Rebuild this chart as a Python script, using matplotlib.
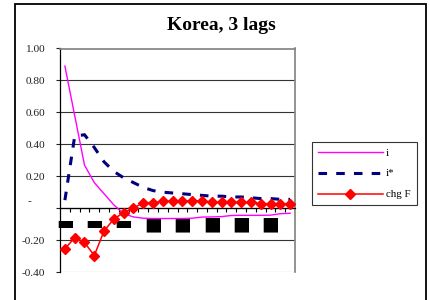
import matplotlib
matplotlib.use('Agg')
import matplotlib.pyplot as plt
from matplotlib.patches import Rectangle

# ---- data ----
lags = list(range(24))
i_vals = [0.89, 0.58, 0.27, 0.16, 0.09, 0.02, -0.035, -0.055, -0.063, -0.065,
          -0.065, -0.065, -0.065, -0.063, -0.056, -0.055, -0.053, -0.046,
          -0.045, -0.045, -0.045, -0.044, -0.035, -0.032]
istar_vals = [0.05, 0.45, 0.46, 0.38, 0.29, 0.23, 0.19, 0.16, 0.13, 0.11,
              0.10, 0.095, 0.09, 0.085, 0.08, 0.075, 0.075, 0.07, 0.07,
              0.065, 0.06, 0.06, 0.055, 0.055]
chgF_vals = [-0.255, -0.185, -0.215, -0.297, -0.143, -0.068, -0.028, 0.0,
             0.034, 0.035, 0.042, 0.045, 0.045, 0.045, 0.045, 0.038, 0.036,
             0.036, 0.036, 0.036, 0.028, 0.027, 0.027, 0.027]
series_names = ["i", "i*", "chg F"]
title = "Korea, 3 lags"
ytick_vals = [-0.4, -0.2, 0.0, 0.2, 0.4, 0.6, 0.8, 1.0]
ytick_labels = ["-0.40", "-0.20", "", "0.20", "0.40", "0.60", "0.80", "1.00"]
xlabel_pos = [0, 3, 6, 9, 12, 15, 18, 21]
xlabel_text = ["\u25ac", "\u25ac", "\u25ac", "\u25a0", "\u25a0", "\u25a0", "\u25a0", "\u25a0"]

plt.rcParams['font.family'] = ['Liberation Serif', 'DejaVu Serif', 'DejaVu Sans']

W, H = 430, 300
fig = plt.figure(figsize=(W / 100, H / 100), dpi=100)
px = lambda v: v * 0.72  # pixels -> points

L, R, T, B = 60, 295, 48.5, 272
ax = fig.add_axes([L / W, 1 - B / H, (R - L) / W, (B - T) / H])

ax.plot(lags, i_vals, color='#FF00FF', lw=1.0, label=series_names[0], zorder=3)
ax.plot(lags, istar_vals, color='#000080', lw=2.2, dashes=(2.8, 3.0),
        dash_capstyle='butt', label=series_names[1], zorder=4)
ax.plot(lags, chgF_vals, color='#FF0000', lw=1.1, marker='D', ms=5.2,
        mec='#FF0000', mfc='#FF0000', label=series_names[2], zorder=5)

ax.set_xlim(-0.5, 23.5)
ax.set_ylim(-0.4, 1.0)

# y axis
ax.set_yticks(ytick_vals)
ax.set_yticklabels(ytick_labels)
ax.tick_params(axis='y', direction='out', length=px(4), width=0.8,
               labelsize=8.2, pad=px(11), colors='#222222', labelcolor='#222222')
ax.annotate("-", xy=(0, 0), xycoords=('axes fraction', 'data'),
            xytext=(px(-31), px(7)), textcoords='offset points',
            ha='center', va='center', fontsize=8.2, color='#222222')

ax.yaxis.grid(True, color='#333333', lw=0.8)
gl = ax.get_ygridlines()
gl[0].set_color('#808080')
gl[-1].set_color('#808080')
ax.set_axisbelow(True)

# spines
ax.spines['left'].set_color('black')
ax.spines['left'].set_linewidth(0.9)
ax.spines['top'].set_color('#808080')
ax.spines['right'].set_color('#808080')
ax.spines['top'].set_linewidth(1.2)
ax.spines['right'].set_linewidth(1.2)
ax.spines['bottom'].set_position(('data', 0))
ax.spines['bottom'].set_color('black')
ax.spines['bottom'].set_linewidth(0.9)

# x ticks: marks at boundaries, labels at every 3rd category
ax.set_xticks([k + 0.5 for k in lags[:-1]])
ax.set_xticklabels([])
ax.tick_params(axis='x', which='major', direction='out', length=px(3.5), width=0.8,
               colors='black')
ax.set_xticks(xlabel_pos, minor=True)
ax.set_xticklabels(xlabel_text, minor=True)
ax.tick_params(axis='x', which='minor', length=0, pad=px(6), labelsize=13.5)
for t in ax.get_xticklabels(minor=True):
    t.set_fontfamily('DejaVu Sans')

# title
fig.text(221 / W, 1 - 25 / H, title, ha='center', va='center',
         fontsize=14, fontweight='bold')

# legend
leg = fig.legend(loc='upper left', bbox_to_anchor=(312 / W, 1 - 142 / H),
                 frameon=True, fancybox=False, fontsize=7.8,
                 handlelength=6.0, handletextpad=0.3, labelspacing=1.05,
                 borderpad=0.55, borderaxespad=0)
leg.get_frame().set_edgecolor('black')
leg.get_frame().set_linewidth(0.8)

# outer chart frame
fig.add_artist(Rectangle((15 / W, -0.05), (426 - 15) / W, 1.05 - 4.5 / H,
                         transform=fig.transFigure, fill=False,
                         edgecolor='black', lw=1.3))

fig.savefig('out.png', dpi=100)
